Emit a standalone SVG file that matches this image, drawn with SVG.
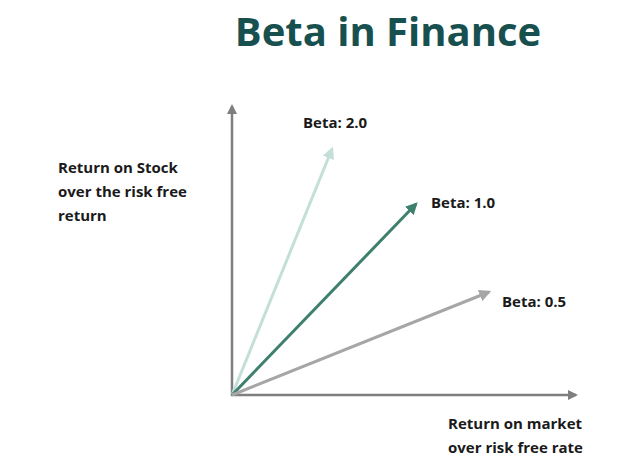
<svg xmlns="http://www.w3.org/2000/svg" width="628" height="464" viewBox="0 0 628 464">
<style>
text{font-family:"Open Sans","Liberation Sans",sans-serif;font-weight:bold;fill:#1a1a1a;font-size:15px}
.ax{stroke:#7f7f7f;stroke-width:2.5;fill:none}
</style>
<defs>
<marker id="ag" viewBox="0 0 10 10" refX="8" refY="5" markerWidth="4" markerHeight="4" orient="auto"><path d="M0,0L10,5L0,10z" fill="#7f7f7f"/></marker>
<marker id="a1" viewBox="0 0 10 10" refX="8" refY="5" markerWidth="4" markerHeight="4" orient="auto"><path d="M0,0L10,5L0,10z" fill="#c3dfd8"/></marker>
<marker id="a2" viewBox="0 0 10 10" refX="8" refY="5" markerWidth="4" markerHeight="4" orient="auto"><path d="M0,0L10,5L0,10z" fill="#3e7f6e"/></marker>
<marker id="a3" viewBox="0 0 10 10" refX="8" refY="5" markerWidth="4" markerHeight="4" orient="auto"><path d="M0,0L10,5L0,10z" fill="#a6a6a6"/></marker>
</defs>
<rect width="628" height="464" fill="#fff"/>
<text id="title" x="388" y="46" text-anchor="middle" style="font-size:40px;fill:#17504f">Beta in Finance</text>
<g id="connectors">
<line class="ax" x1="232" y1="396" x2="232" y2="106" marker-end="url(#ag)"/>
<line class="ax" x1="231" y1="395" x2="576" y2="395" marker-end="url(#ag)"/>
<line x1="232" y1="395" x2="332" y2="149" stroke="#c3dfd8" stroke-width="3" marker-end="url(#a1)"/>
<line x1="232" y1="395" x2="416" y2="204" stroke="#3e7f6e" stroke-width="3" marker-end="url(#a2)"/>
<line x1="232" y1="395" x2="489" y2="292" stroke="#a6a6a6" stroke-width="3" marker-end="url(#a3)"/>
</g>
<g id="b2"><text x="303" y="128">Beta: 2.0</text></g>
<g id="b1"><text x="431" y="208">Beta: 1.0</text></g>
<g id="b05"><text x="502" y="307">Beta: 0.5</text></g>
<g id="ylabel"><text x="58" y="173">Return on  Stock</text><text x="58" y="197">over the risk free</text><text x="58" y="221">return</text></g>
<g id="xlabel"><text x="448" y="429">Return on market</text><text x="448" y="453">over risk free rate</text></g>
</svg>
